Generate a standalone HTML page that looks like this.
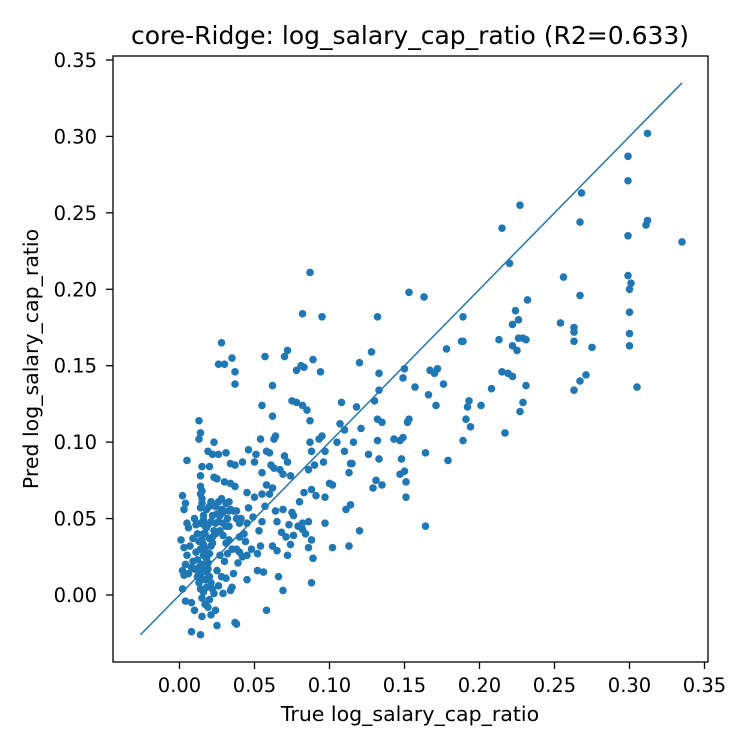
<!DOCTYPE html>
<html><head><meta charset="utf-8"><style>
body{margin:0;background:#fff;}
svg text{font-family:"DejaVu Sans","Liberation Sans",sans-serif;fill:#000;}
</style></head><body>
<svg id="chart" width="750" height="750" xmlns="http://www.w3.org/2000/svg">
<rect width="750" height="750" fill="#fff"/>
<text x="410" y="44" font-size="25" text-anchor="middle">core-Ridge: log_salary_cap_ratio (R2=0.633)</text>
<g id="points"></g>
<g id="axes"></g>
<text x="410" y="721" font-size="20.5" text-anchor="middle">True log_salary_cap_ratio</text>
<text transform="translate(38,359) rotate(-90)" font-size="20.5" text-anchor="middle">Pred log_salary_cap_ratio</text>
</svg>
<script>
const xTicks=[0,0.05,0.10,0.15,0.20,0.25,0.30,0.35];
const yTicks=[0,0.05,0.10,0.15,0.20,0.25,0.30,0.35];
const tickLabels=["0.00","0.05","0.10","0.15","0.20","0.25","0.30","0.35"];
const identityLine=[-0.026,0.335];
const trueVals=[0.312,0.299,0.299,0.312,0.311,0.335,0.299,0.299,0.301,0.300,0.300,0.300,0.300,0.305,0.268,0.267,0.256,0.254,0.267,0.263,0.263,0.263,0.275,0.271,0.267,0.263,0.227,0.215,0.220,0.224,0.232,0.222,0.226,0.226,0.229,0.231,0.222,0.225,0.213,0.215,0.219,0.222,0.231,0.229,0.227,0.208,0.201,0.217,0.189,0.188,0.189,0.192,0.193,0.191,0.194,0.189,0.178,0.172,0.167,0.170,0.176,0.166,0.171,0.179,0.164,0.164,0.153,0.163,0.150,0.149,0.157,0.153,0.152,0.149,0.147,0.143,0.148,0.150,0.147,0.151,0.151,0.135,0.132,0.128,0.120,0.133,0.133,0.130,0.132,0.132,0.126,0.133,0.131,0.135,0.129,0.120,0.118,0.121,0.108,0.110,0.107,0.105,0.116,0.114,0.115,0.113,0.114,0.111,0.110,0.100,0.102,0.102,0.113,0.095,0.087,0.082,0.089,0.094,0.072,0.070,0.062,0.057,0.028,0.035,0.026,0.030,0.037,0.037,0.078,0.081,0.083,0.075,0.078,0.082,0.085,0.087,0.087,0.088,0.093,0.090,0.086,0.096,0.097,0.095,0.091,0.097,0.088,0.083,0.080,0.086,0.097,0.082,0.088,0.076,0.076,0.074,0.089,0.088,0.069,
0.055,0.062,0.064,0.063,0.054,0.058,0.070,0.060,0.067,0.074,0.072,0.069,0.061,0.063,0.051,0.050,0.055,0.058,0.062,0.060,0.055,0.050,0.045,0.057,0.064,0.069,0.065,0.055,0.053,0.054,0.052,0.056,0.058,0.045,0.040,0.036,0.035,0.037,0.038,0.046,0.042,0.037,
0.005,0.013,0.014,0.013,0.023,0.019,0.022,0.026,0.031,0.034,0.015,0.020,0.014,0.023,0.025,0.030,0.034,0.037,0.014,0.015,0.014,0.015,0.015,0.014,0.018,0.016,0.016,0.014,0.002,0.004,0.003,0.005,0.006,0.001,0.003,0.005,0.004,0.002,0.006,0.003,0.002,0.004,0.008,0.010,0.008,0.014,0.015,0.010,0.008,0.009,0.011,0.012,0.013,0.012,0.013,0.014,0.015,0.016,0.017,0.018,0.019,0.020,0.021,0.022,0.023,0.024,0.025,0.026,0.027,0.028,0.029,0.030,0.032,0.033,0.034,0.036,0.038,0.038,0.040,0.041,0.033,0.031,0.029,0.027,0.024,0.022,0.020,0.017,0.016,0.018,0.019,0.020,0.021,0.022,0.023,0.020,0.019,0.024,0.025,0.021,0.017,0.016,0.015,0.017,0.018,0.019,0.021,0.022,0.020,0.021,0.024,0.026,0.028,0.031,0.033,0.029,0.031,0.033,0.035,0.032,0.030,0.027,0.025,0.028,0.031,0.034,0.029,0.026,0.012,0.011,0.010,0.009,0.007,0.013,0.014,0.016,0.018,0.014,0.013,0.015,0.016,0.017,0.045,0.044,0.048,0.042,0.040,0.038,0.043,0.046,0.049,0.045,0.052,0.039,0.062,0.065,0.068,0.071,0.073,0.075,0.072,0.066,0.079,0.082,0.084,0.086];
const predVals=[0.302,0.287,0.271,0.245,0.242,0.231,0.235,0.209,0.204,0.200,0.185,0.171,0.163,0.136,0.263,0.244,0.208,0.178,0.196,0.175,0.172,0.166,0.162,0.144,0.140,0.134,0.255,0.240,0.217,0.186,0.193,0.177,0.180,0.168,0.168,0.167,0.163,0.160,0.167,0.146,0.145,0.143,0.137,0.126,0.120,0.135,0.124,0.106,0.182,0.166,0.166,0.123,0.127,0.115,0.110,0.101,0.161,0.148,0.147,0.145,0.138,0.131,0.124,0.088,0.093,0.045,0.198,0.195,0.148,0.142,0.136,0.115,0.113,0.103,0.101,0.102,0.089,0.081,0.079,0.074,0.064,0.113,0.182,0.159,0.152,0.145,0.134,0.127,0.115,0.101,0.092,0.089,0.075,0.072,0.070,0.042,0.123,0.109,0.126,0.108,0.112,0.100,0.100,0.086,0.086,0.080,0.059,0.056,0.094,0.073,0.072,0.031,0.032,0.182,0.211,0.184,0.154,0.146,0.160,0.156,0.137,0.156,0.165,0.155,0.151,0.151,0.146,0.138,0.147,0.150,0.149,0.127,0.126,0.124,0.121,0.114,0.100,0.094,0.102,0.085,0.082,0.087,0.094,0.104,0.065,0.064,0.069,0.067,0.061,0.048,0.047,0.043,0.036,0.052,0.039,0.033,0.024,0.008,0.003,
0.124,0.117,0.104,0.102,0.102,0.094,0.091,0.093,0.082,0.078,0.087,0.079,0.085,0.083,0.092,0.087,0.080,0.072,0.070,0.066,0.066,0.064,0.067,0.058,0.055,0.056,0.048,0.048,0.042,0.032,0.016,0.015,-0.010,0.010,0.038,0.014,0.005,-0.018,-0.019,0.095,0.087,0.085,
0.088,0.114,0.106,0.102,0.100,0.094,0.092,0.092,0.093,0.086,0.084,0.084,0.078,0.077,0.076,0.074,0.073,0.071,0.071,0.068,0.066,0.063,0.060,0.057,0.056,0.052,0.049,0.047,0.065,0.060,0.056,0.047,0.044,0.036,0.031,0.026,0.020,0.016,0.014,0.013,0.004,-0.004,-0.005,-0.010,-0.024,-0.026,-0.014,0.017,0.018,0.022,0.028,0.023,0.018,0.012,0.008,0.004,-0.002,0.002,0.010,0.015,0.021,0.027,0.032,0.038,0.042,0.047,0.053,0.048,0.052,0.056,0.054,0.055,0.050,0.055,0.056,0.055,0.055,0.050,0.047,0.050,0.045,0.045,0.047,0.042,0.040,0.034,0.037,0.030,0.026,0.024,0.017,0.012,0.008,0.004,0.001,-0.003,-0.008,-0.010,-0.020,-0.013,-0.006,0.033,0.036,0.040,0.044,0.046,0.048,0.052,0.058,0.061,0.058,0.061,0.063,0.060,0.061,0.039,0.034,0.036,0.030,0.027,0.022,0.026,0.016,0.012,0.011,0.003,0.001,0.006,0.040,0.046,0.050,0.037,0.032,0.035,0.030,0.016,0.005,0.012,0.015,0.020,0.040,0.045,0.047,0.035,0.030,0.025,0.028,0.030,0.040,0.057,0.051,0.026,0.027,0.021,0.032,0.029,0.041,0.038,0.046,0.054,0.026,0.012,0.045,0.047,0.040,0.031];

const NS="http://www.w3.org/2000/svg";
const L=113,R=708,T=56,B=662;
const sx=v=>179.5+v*1500;
const sy=v=>595-v*1528.6;
const pts=document.getElementById('points');
const axes=document.getElementById('axes');
function mk(tag,attrs,parent){const e=document.createElementNS(NS,tag);for(const k in attrs)e.setAttribute(k,attrs[k]);parent.appendChild(e);return e;}
for(let i=0;i<trueVals.length;i++){
  const c=mk('circle',{cx:sx(trueVals[i]),cy:sy(predVals[i]),r:3.8,fill:'#1f77b4'},pts);
  
  
}
const ln=mk('line',{x1:sx(identityLine[0]),y1:sy(identityLine[0]),x2:sx(identityLine[1]),y2:sy(identityLine[1]),stroke:'#1f77b4','stroke-width':1.5},pts);


const fr=mk('rect',{x:L,y:T,width:R-L,height:B-T,fill:'none',stroke:'#000','stroke-width':1.3},axes);


xTicks.forEach((v,i)=>{
  const t=mk('line',{x1:sx(v),x2:sx(v),y1:B,y2:B+7,stroke:'#000','stroke-width':1.3},axes);
  
  
  const tx=mk('text',{x:sx(v),y:B+30,'font-size':19.5,'text-anchor':'middle'},axes);
  tx.textContent=tickLabels[i];
  
  
});
yTicks.forEach((v,i)=>{
  const t=mk('line',{x1:L-7,x2:L,y1:sy(v),y2:sy(v),stroke:'#000','stroke-width':1.3},axes);
  
  
  const tx=mk('text',{x:L-16,y:sy(v)+7,'font-size':19.5,'text-anchor':'end'},axes);
  tx.textContent=tickLabels[i];
  
  
});
</script>
</body></html>
